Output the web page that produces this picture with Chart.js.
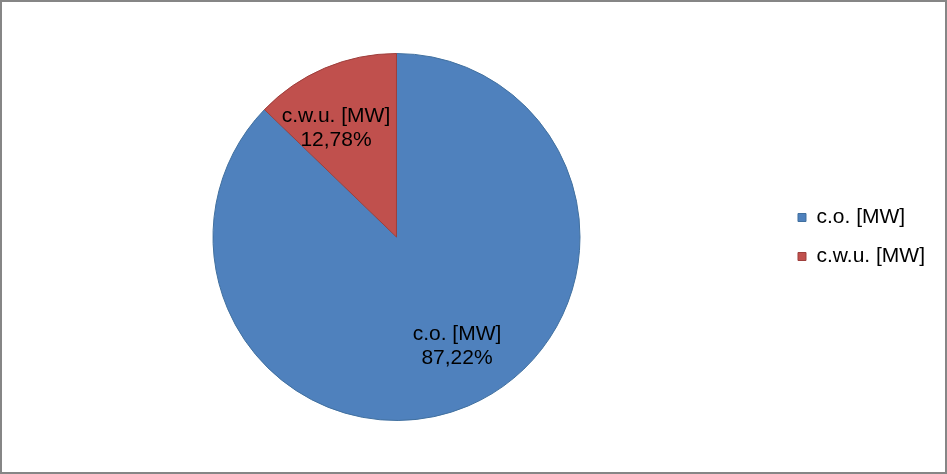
<!DOCTYPE html>
<html>
<head>
<meta charset="utf-8">
<script src="https://cdn.jsdelivr.net/npm/chart.js@4/dist/chart.umd.min.js"></script>
<style>
  body { margin: 0; background: #fff; }
  #frame {
    width: 947px; height: 474px;
    box-sizing: border-box;
    border: 2px solid #868686;
    position: relative;
  }
  #frame canvas { display: block; }
</style>
</head>
<body>
<div id="frame"><canvas id="myCanvas" width="943" height="470"></canvas></div>
<script>
const labels = ["c.o. [MW]", "c.w.u. [MW]"];
const shares = [87.22, 12.78];
const colors = ["#4F81BD", "#C0504D"];
const edges = ["#41709F", "#9E3F3C"];

// percent text in polish style (comma as decimal separator)
const fmt = v => v.toFixed(2).replace(".", ",") + "%";

const sliceLabels = {
  id: "sliceLabels",
  afterDatasetsDraw(chart, args, opts) {
    const { ctx } = chart;
    const arcs = chart.getDatasetMeta(0).data;
    ctx.save();
    ctx.font = "21px 'Liberation Sans', Arial, sans-serif";
    ctx.fillStyle = "#000";
    ctx.textAlign = "center";
    ctx.textBaseline = "middle";
    arcs.forEach((arc, i) => {
      const { x, y, startAngle, endAngle, outerRadius } = arc.getProps(
        ["x", "y", "startAngle", "endAngle", "outerRadius"], true);
      const mid = (startAngle + endAngle) / 2 + opts.rotate * Math.PI / 180;
      const r = outerRadius * opts.radius;
      const cx = x + Math.cos(mid) * r;
      const cy = y + Math.sin(mid) * r;
      ctx.fillText(labels[i], cx, cy - 12);
      ctx.fillText(fmt(shares[i]), cx, cy + 12);
    });
    ctx.restore();
  },
};

const printChart = () => {
  const canvas = document.getElementById("myCanvas");
  const ctx = canvas.getContext("2d");

  new Chart(ctx, {
    type: "pie",
    data: {
      labels,
      datasets: [
        {
          data: shares,
          backgroundColor: colors,
          borderColor: edges,
          borderWidth: 1,
        },
      ],
    },
    options: {
      responsive: false,
      animation: false,
      layout: { padding: { top: 51, bottom: 51, left: 11, right: 10 } },
      plugins: {
        tooltip: { enabled: false },
        legend: {
          position: "right",
          labels: {
            boxWidth: 8,
            boxHeight: 8,
            padding: 18,
            color: "#000",
            font: { family: "'Liberation Sans', Arial, sans-serif", size: 21 },
          },
        },
        sliceLabels: { radius: 0.68, rotate: -6 },
      },
    },
    plugins: [sliceLabels],
  });
};

printChart();
</script>
</body>
</html>
